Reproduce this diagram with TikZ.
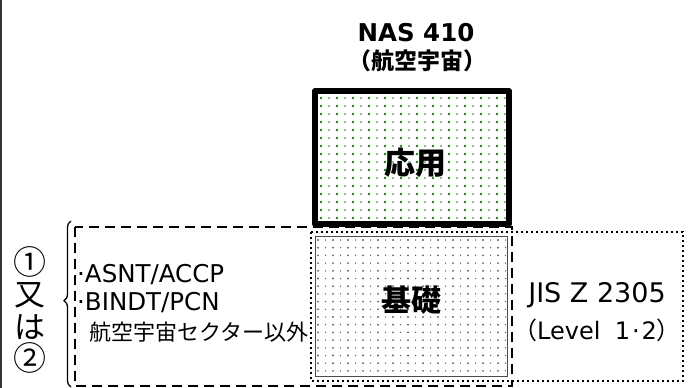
\documentclass[tikz,border=0pt]{standalone}
\usepackage{fontspec}
\setmainfont{DejaVu Sans}
\newfontfamily\cjk{Noto Sans CJK JP}
\usetikzlibrary{decorations.pathreplacing}
\definecolor{dotgreen}{RGB}{10,130,20}
\definecolor{dotgray}{RGB}{100,100,100}
\tikzset{
  thickbox/.style={line width=6pt, line join=round},
  dashbox/.style={line width=2.4pt, dash pattern=on 10pt off 6pt},
  dotbox/.style={line width=2.4pt, dash pattern=on 2.4pt off 2.6pt},
  thinbox/.style={line width=0.9pt, draw=black!70},
  lbl/.style={inner sep=0pt, anchor=center},
}
\newcommand{\fs}[1]{\fontsize{#1}{#1}\selectfont}
\begin{document}
\begin{tikzpicture}[x=1pt,y=-1pt]
\useasboundingbox (0,0) rectangle (694,388);
% left edge line
\draw[line width=2pt, black!80] (1,0) -- (1,388);
% title
\node[lbl] (nas) at (416,33) {\fs{24.5}\bfseries NAS 410};
\node[lbl] (aero) at (417,61) {\fs{23}\cjk\bfseries （航空宇宙）};
% green box dots
\begin{scope}
  \clip (318,94) rectangle (506,221);
  \foreach \i in {0,...,24}{
    \foreach \j in {0,...,16}{
      \pgfmathsetmacro{\rr}{mod(\i,2)==0 ? 1.4 : 0.95}
      \fill[dotgreen] (321+8*\i, 98+8*\j) circle (\rr pt);
    }
  }
\end{scope}
% kiso box dots
\begin{scope}
  \clip (315,236) rectangle (507,376);
  \foreach \i in {0,...,25}{
    \foreach \j in {0,...,18}{
      \pgfmathsetmacro{\rr}{mod(\i,2)==0 ? 1.05 : 0.75}
      \fill[dotgray] (318+7.5*\i, 240+7.7*\j) circle (\rr pt);
    }
  }
\end{scope}
\draw[thinbox] (315,236) rectangle (507,376);
% outer dotted box
\draw[dotbox] (311,232) rectangle (683,381);
% dashed box
\draw[dashbox] (75,227) rectangle (512,386);
% green box
\draw[thickbox] (315,91) rectangle (509,224);
% brace
\draw[line width=1.3pt, decorate, decoration={brace, amplitude=7pt, aspect=0.52}] (71,387) -- (71,221);
% labels
\node[lbl] (oyo) at (415,163) {\fs{31}\cjk\bfseries 応用};
\node[lbl] (kiso) at (411,300) {\fs{30}\cjk\bfseries 基礎};
\node[lbl] (jis) at (597,295) {\fs{27}JIS Z 2305};
\node[lbl] (lev) at (597,330) {\fs{24}{\cjk （}Level\hspace{0.6em}1\hspace{0.08em}·\hspace{0.08em}2{\cjk ）}};
\node[lbl, anchor=west] (asnt) at (77,275) {\fs{24.5}·ASNT/ACCP};
\node[lbl, anchor=west] (bindt) at (77,303) {\fs{24.5}·BINDT/PCN};
\node[lbl, anchor=west] (other) at (89,332) {\fs{22}\cjk 航空宇宙セクター以外};
\node[lbl] (c1) at (30,262) {\fs{33}\cjk ①};
\node[lbl] (mata) at (30,295) {\fs{31}\cjk 又};
\node[lbl] (ha) at (30,327) {\fs{31}\cjk は};
\node[lbl] (c2) at (30,358) {\fs{33}\cjk ②};
\end{tikzpicture}
\end{document}
